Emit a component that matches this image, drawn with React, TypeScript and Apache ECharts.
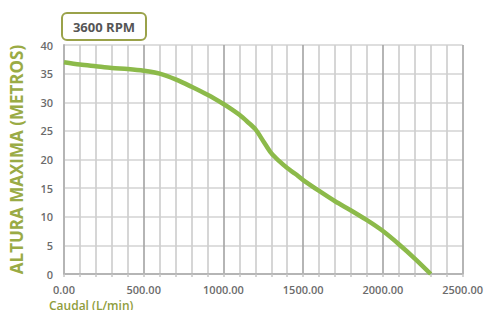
import React, { useEffect, useRef } from "react";
import * as echarts from "echarts";

const flow = [0, 100, 200, 300, 400, 500, 600, 700, 800, 900, 1000, 1050, 1100, 1150, 1200, 1250, 1300, 1350, 1400, 1450, 1500, 1600, 1700, 1800, 1900, 2000, 2100, 2200, 2300];
const head = [37.0, 36.6, 36.3, 36.0, 35.8, 35.5, 35.0, 34.0, 32.7, 31.3, 29.7, 28.8, 27.8, 26.6, 25.3, 23.2, 21.1, 19.7, 18.5, 17.5, 16.4, 14.5, 12.7, 11.1, 9.4, 7.5, 5.2, 2.7, 0];
const title = "3600 RPM";
const yName = "ALTURA MAXIMA (METROS)";
const xName = "Caudal (L/min)";

export default function App() {
  const ref = useRef<HTMLDivElement>(null);
  useEffect(() => {
    const chart = echarts.init(ref.current!, null, { renderer: "svg" });
    chart.setOption({
      animation: false,
      grid: { left: 63, right: 19, top: 45, bottom: 36 },
      xAxis: {
        type: "value",
        min: 0,
        max: 2500,
        interval: 100,
        axisLine: { show: true, lineStyle: { color: "#b5b5b5", width: 2 } },
        axisTick: { show: true, length: 3, lineStyle: { color: "#c4c4c4", width: 1.5 } },
        axisLabel: {
          formatter: (v: number) => (v % 500 === 0 ? v.toFixed(2) : ""),
          color: "#6b6b6b",
          fontSize: 11,
          fontWeight: 600,
          fontFamily: "Open Sans",
          margin: 10,
          hideOverlap: false,
        },
        splitLine: {
          show: true,
          lineStyle: { color: ["#a8a8a8", "#cfcfcf", "#cfcfcf", "#cfcfcf", "#cfcfcf"], width: 1.7 },
        },
      },
      yAxis: {
        type: "value",
        min: 0,
        max: 40,
        interval: 5,
        name: yName,
        nameLocation: "middle",
        nameGap: 39,
        nameTextStyle: { color: "#9aab45", fontSize: 17, fontWeight: "bold", fontFamily: "Open Sans" },
        axisLine: { show: true, lineStyle: { color: "#b5b5b5", width: 2 } },
        axisTick: { show: false },
        axisLabel: { color: "#6b6b6b", fontSize: 11, fontWeight: 600, fontFamily: "Open Sans", margin: 11 },
        splitLine: { show: true, lineStyle: { color: "#dedede", width: 2 } },
      },
      graphic: [
        {
          type: "rect",
          shape: { x: 62, y: 13, width: 84, height: 27, r: 5 },
          style: { fill: "#fff", stroke: "#9aa24a", lineWidth: 2 },
        },
        {
          type: "text",
          style: {
            text: title,
            x: 104,
            y: 27,
            fill: "#555",
            font: "bold 13px 'Open Sans'",
            textAlign: "center",
            textVerticalAlign: "middle",
          },
        },
        {
          type: "text",
          style: { text: xName, x: 49, y: 299, fill: "#8f9d3c", font: "600 12px 'Open Sans'" },
        },
      ],
      series: [
        {
          type: "line",
          data: flow.map((f, i) => [f, head[i]]),
          smooth: 0.3,
          showSymbol: false,
          lineStyle: { color: "#8cba4a", width: 4.5 },
        },
      ],
    });
    return () => chart.dispose();
  }, []);
  return <div ref={ref} style={{ width: 486, height: 310, position: "absolute", left: 0, top: 0 }} />;
}
